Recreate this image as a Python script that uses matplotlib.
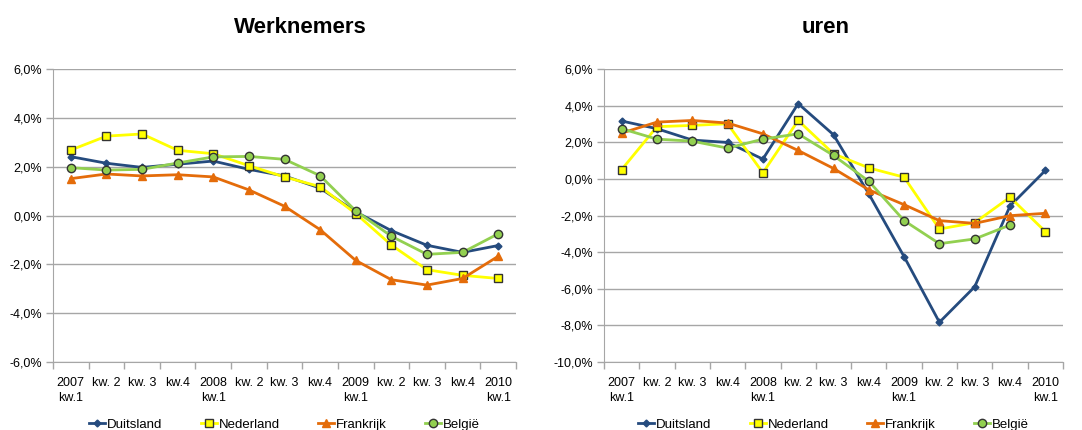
import matplotlib.pyplot as plt
from matplotlib.ticker import FuncFormatter, FixedLocator

plt.rcParams['font.family'] = ['Liberation Sans', 'DejaVu Sans']

quarters = ['2007\nkw.1', 'kw. 2', 'kw. 3', 'kw.4',
            '2008\nkw.1', 'kw. 2', 'kw. 3', 'kw.4',
            '2009\nkw.1', 'kw. 2', 'kw. 3', 'kw.4',
            '2010\nkw.1']

# Werknemers (year-on-year change, %)
werk_duitsland = [2.41, 2.14, 1.97, 2.10, 2.23, 1.89, 1.62, 1.12, 0.15, -0.62, -1.22, -1.51, -1.23]
werk_nederland = [2.68, 3.25, 3.34, 2.67, 2.53, 2.04, 1.58, 1.18, 0.08, -1.21, -2.22, -2.45, -2.58]
werk_frankrijk = [1.51, 1.70, 1.62, 1.67, 1.58, 1.05, 0.38, -0.58, -1.84, -2.63, -2.85, -2.58, -1.67]
werk_belgie = [1.96, 1.86, 1.89, 2.15, 2.40, 2.42, 2.30, 1.63, 0.19, -0.85, -1.59, -1.51, -0.75]

# uren (year-on-year change, %)
uren_duitsland = [3.16, 2.74, 2.12, 1.99, 1.08, 4.11, 2.41, -0.82, -4.25, -7.83, -5.89, -1.48, 0.46]
uren_nederland = [0.51, 2.85, 2.92, 3.01, 0.33, 3.19, 1.37, 0.60, 0.09, -2.74, -2.39, -1.00, -2.88]
uren_frankrijk = [2.50, 3.10, 3.19, 3.05, 2.46, 1.55, 0.57, -0.60, -1.41, -2.28, -2.43, -2.01, -1.88]
uren_belgie = [2.74, 2.17, 2.06, 1.68, 2.17, 2.46, 1.28, -0.13, -2.28, -3.54, -3.28, -2.52, None]

countries = ['Duitsland', 'Nederland', 'Frankrijk', 'België']
styles = {
    'Duitsland': dict(color='#254B7E', marker='D', markersize=3.5, markerfacecolor='#254B7E',
                      markeredgecolor='#254B7E'),
    'Nederland': dict(color='#FFFF00', marker='s', markersize=6, markerfacecolor='#FFFF00',
                      markeredgecolor='#333333', markeredgewidth=1),
    'Frankrijk': dict(color='#E46C0A', marker='^', markersize=5.5, markerfacecolor='#E46C0A',
                      markeredgecolor='#E46C0A'),
    'België': dict(color='#92D050', marker='o', markersize=6, markerfacecolor='#92D050',
                   markeredgecolor='#333333', markeredgewidth=1),
}

GRID = '#A6A6A6'


def pct(v, pos):
    return f'{v:.1f}%'.replace('.', ',')


def draw_panel(ax, series, ymin, ymax):
    x = list(range(len(quarters)))
    for name, vals in zip(countries, series):
        pts = [(i, v) for i, v in zip(x, vals) if v is not None]
        ax.plot([p[0] for p in pts], [p[1] for p in pts], linewidth=2,
                label=name, **styles[name])
    ax.set_ylim(ymin, ymax)
    ax.set_xlim(-0.5, len(quarters) - 0.5)
    ax.set_yticks(range(ymin, ymax + 1, 2))
    ax.yaxis.set_major_formatter(FuncFormatter(pct))
    ax.yaxis.grid(True, color=GRID, linewidth=1)
    ax.set_axisbelow(True)
    ax.set_xticks(x)
    ax.set_xticklabels(quarters, fontsize=9, linespacing=1.3)
    ax.xaxis.set_minor_locator(FixedLocator([i - 0.5 for i in range(len(quarters) + 1)]))
    ax.tick_params(axis='x', which='major', length=0, pad=11)
    ax.tick_params(axis='x', which='minor', length=5, color=GRID, width=1)
    ax.tick_params(axis='y', length=5, color=GRID, width=1, labelsize=9, pad=3)
    for s in ['top', 'right']:
        ax.spines[s].set_visible(False)
    ax.spines['left'].set_color(GRID)
    ax.spines['bottom'].set_color(GRID)
    ax.legend(loc='center', bbox_to_anchor=(0.5, -0.215), ncol=4, frameon=False,
              fontsize=9.5, handlelength=1.2, handletextpad=0.15, columnspacing=2.9,
              borderaxespad=0, borderpad=0)


fig = plt.figure(figsize=(10.82, 4.30), dpi=100)
ax1 = fig.add_axes([53 / 1082, 1 - 362 / 430, 463 / 1082, 293 / 430])
ax2 = fig.add_axes([604 / 1082, 1 - 362 / 430, 459 / 1082, 293 / 430])

draw_panel(ax1, [werk_duitsland, werk_nederland, werk_frankrijk, werk_belgie], -6, 6)
draw_panel(ax2, [uren_duitsland, uren_nederland, uren_frankrijk, uren_belgie], -10, 6)

fig.text(300 / 1082, 1 - 33 / 430, 'Werknemers', ha='center', va='baseline',
         fontsize=16, fontweight='bold')
fig.text(826 / 1082, 1 - 33 / 430, 'uren', ha='center', va='baseline',
         fontsize=16, fontweight='bold')

fig.savefig('out.png', dpi=100)
